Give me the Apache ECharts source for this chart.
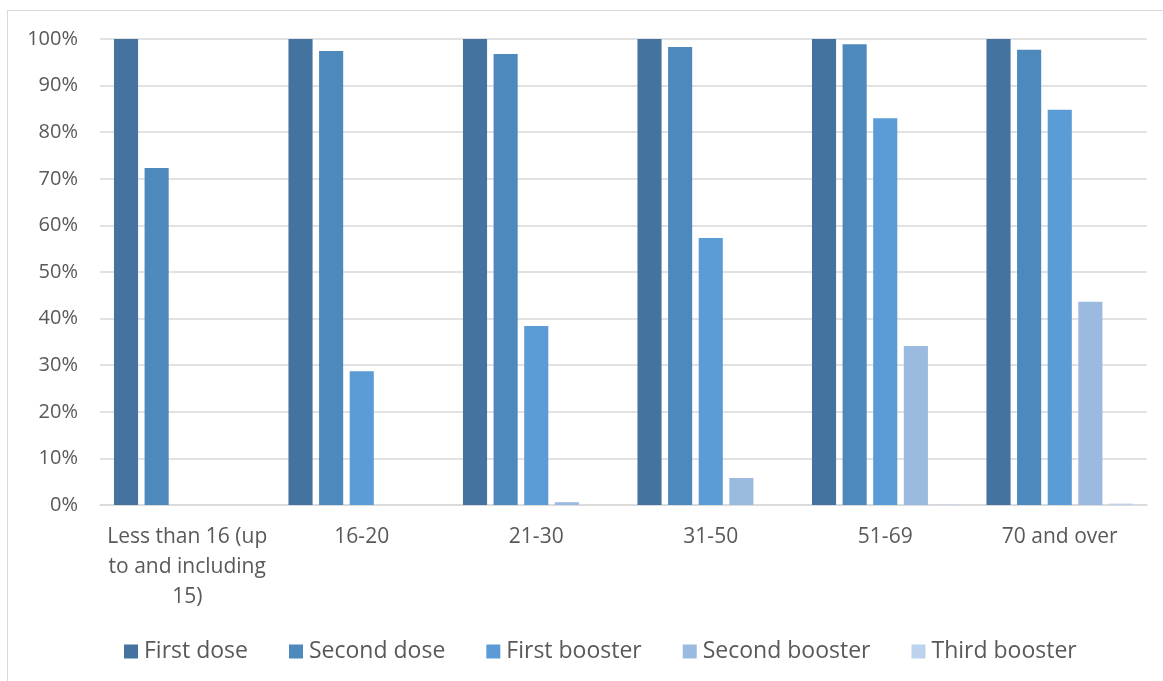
<!DOCTYPE html>
<html>
<head>
<meta charset="utf-8">
<title>Vaccination uptake by age group</title>
<script src="https://cdn.jsdelivr.net/npm/echarts@6/dist/echarts.min.js"></script>
<style>
  html, body { margin: 0; padding: 0; background: #ffffff; overflow: hidden; }
  #frame { position: absolute; left: 7px; top: 10px; width: 1170px; height: 690px; border: 1px solid #d9d9d9; box-sizing: border-box; }
  #chart { position: absolute; left: 0; top: 0; width: 1163px; height: 681px; }
</style>
</head>
<body>
<div id="frame"></div>
<div id="chart"></div>
<script>
// Age groups (x axis)
const ageGroups = ['Less than 16 (up\nto and including\n15)', '16-20', '21-30', '31-50', '51-69', '70 and over'];

// Share of each age group that has received each dose (%)
const firstDose     = [100, 100, 100, 100, 100, 100];
const secondDose    = [72.3, 97.4, 96.8, 98.3, 98.9, 97.7];
const firstBooster  = [0, 28.7, 38.4, 57.3, 83.0, 84.8];
const secondBooster = [0, 0, 0.6, 5.8, 34.1, 43.6];
const thirdBooster  = [0, 0, 0, 0, 0.1, 0.3];

const seriesNames = ['First dose', 'Second dose', 'First booster', 'Second booster', 'Third booster'];
const seriesValues = [firstDose, secondDose, firstBooster, secondBooster, thirdBooster];
const seriesColors = ['#43739e', '#4e89bd', '#5b9bd6', '#9abae0', '#bdd2ec'];

// Y axis ticks: 0% .. 100% every 10%
const yMin = 0, yMax = 100, yStep = 10;

const FONT = '"Open Sans", sans-serif';
const TEXT = '#595959';

const chart = echarts.init(document.getElementById('chart'), null, { renderer: 'canvas' });

chart.setOption({
  animation: false,
  backgroundColor: 'transparent',
  grid: { left: 100, right: 16, top: 39, bottom: 176, containLabel: false },
  legend: {
    data: seriesNames,
    left: 119,
    top: 635,
    icon: 'rect',
    itemWidth: 14,
    itemHeight: 14,
    itemGap: 41,
    textStyle: { color: TEXT, fontFamily: FONT, fontSize: 23, padding: [0, 0, 0, 1] }
  },
  xAxis: {
    type: 'category',
    data: ageGroups,
    axisLine: { show: true, lineStyle: { color: '#d9d9d9', width: 1.5 } },
    axisTick: { show: false },
    axisLabel: {
      color: TEXT, fontFamily: FONT, fontSize: 21, margin: 17,
      lineHeight: 30, interval: 0, align: 'center'
    }
  },
  yAxis: {
    type: 'value',
    min: yMin, max: yMax, interval: yStep,
    axisLine: { show: false },
    axisTick: { show: false },
    splitLine: { lineStyle: { color: '#d9d9d9', width: 1.5 } },
    axisLabel: {
      color: TEXT, fontFamily: FONT, fontSize: 20, margin: 22,
      formatter: v => v + '%'
    }
  },
  series: seriesNames.map((name, i) => ({
    name,
    type: 'bar',
    data: seriesValues[i],
    barGap: '27%',
    barCategoryGap: '16%',
    itemStyle: { color: seriesColors[i] }
  }))
});
</script>
</body>
</html>
